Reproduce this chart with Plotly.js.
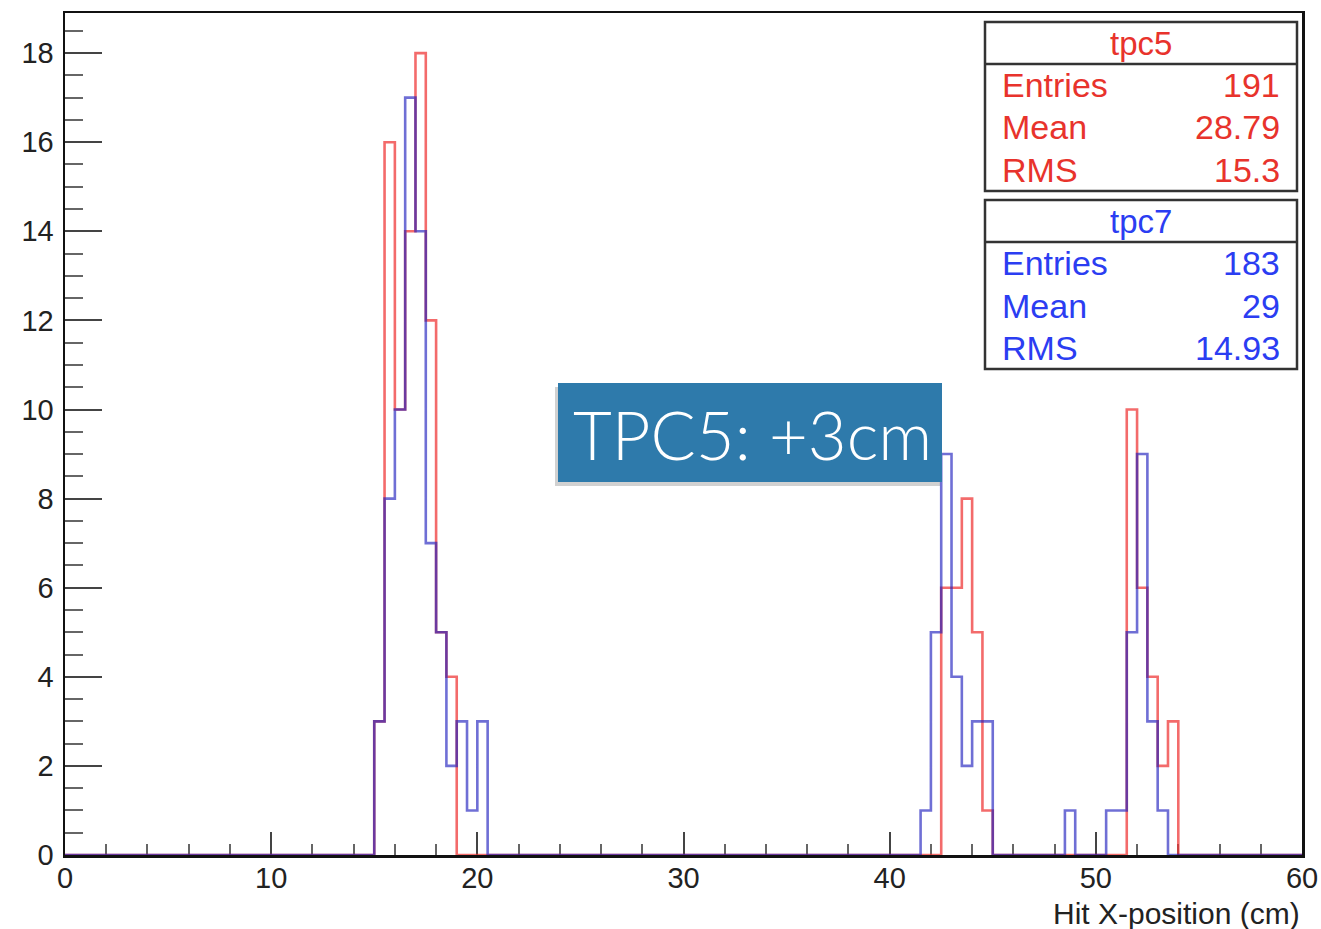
<!DOCTYPE html>
<html>
<head>
<meta charset="utf-8">
<script src="https://cdn.plot.ly/plotly-3.0.1.min.js"></script>
<style>
  html, body { margin: 0; padding: 0; background: #ffffff; }
  #chart { width: 1321px; height: 929px; }
</style>
</head>
<body>
<div id="chart"></div>
<script>
// ---- Data (bin lower edges in cm, 0.5 cm bins) ----
const tpc5BinLow = [15.0, 15.5, 16.0, 16.5, 17.0, 17.5, 18.0, 18.5,
                    42.5, 43.0, 43.5, 44.0, 44.5,
                    51.5, 52.0, 52.5, 53.0, 53.5];
const tpc5Counts = [3, 16, 10, 14, 18, 12, 5, 4,
                    6, 6, 8, 5, 1,
                    10, 6, 4, 2, 3];
const tpc7BinLow = [15.0, 15.5, 16.0, 16.5, 17.0, 17.5, 18.0, 18.5, 19.0, 19.5, 20.0,
                    41.5, 42.0, 42.5, 43.0, 43.5, 44.0, 44.5,
                    48.5,
                    50.5, 51.0, 51.5, 52.0, 52.5, 53.0];
const tpc7Counts = [3, 8, 10, 17, 14, 7, 5, 2, 3, 1, 3,
                    1, 5, 9, 4, 2, 3, 3,
                    1,
                    1, 1, 5, 9, 3, 1];
const tpc5Stats = {name: "tpc5", entries: "191", mean: "28.79", rms: "15.3"};
const tpc7Stats = {name: "tpc7", entries: "183", mean: "29", rms: "14.93"};
const statLabels = ["Entries", "Mean", "RMS"];
const xTitle = "Hit X-position (cm)";
const noteText = "TPC5: +3cm";

// ---- Histogram axis definition ----
const histMin = 0, histMax = 60, nBins = 120;
const binW = (histMax - histMin) / nBins;

function stepSeries(lows, counts) {
  const xs = [], ys = [];
  const full = new Array(nBins).fill(0);
  lows.forEach((lo, i) => {
    const idx = Math.round((lo - histMin) / binW);
    full[idx] = counts[i];
  });
  for (let i = 0; i < nBins; i++) { xs.push(histMin + i * binW); ys.push(full[i]); }
  xs.push(histMax); ys.push(full[nBins - 1]);
  return {xs, ys};
}

const s5 = stepSeries(tpc5BinLow, tpc5Counts);
const s7 = stepSeries(tpc7BinLow, tpc7Counts);

const RED = "rgba(238,50,50,0.72)";
const BLUE = "rgba(30,30,190,0.64)";
const RED_TXT = "#e8332c";
const BLUE_TXT = "#2b3df2";

const traces = [
  {x: s5.xs, y: s5.ys, type: "scatter", mode: "lines", line: {shape: "hv", color: RED, width: 2.6}, hoverinfo: "x+y", name: "tpc5"},
  {x: s7.xs, y: s7.ys, type: "scatter", mode: "lines", line: {shape: "hv", color: BLUE, width: 2.6}, hoverinfo: "x+y", name: "tpc7"}
];

// plot area in pixels
const L = 65, R = 1302, T = 13, B = 855;
const W = 1321, H = 929;
const px = v => (v - L) / (R - L);
const py = v => (B - v) / (B - T);

const FONT = "Liberation Sans, Arial, Helvetica, sans-serif";
const shapes = [];
const annotations = [];

function statBox(top, bottom, divider, st, color) {
  shapes.push({type: "rect", xref: "paper", yref: "paper", x0: px(985), x1: px(1297), y0: py(bottom), y1: py(top),
               line: {color: "#333333", width: 2.5}, fillcolor: "#ffffff", layer: "above"});
  shapes.push({type: "line", xref: "paper", yref: "paper", x0: px(985), x1: px(1297), y0: py(divider), y1: py(divider),
               line: {color: "#333333", width: 2.5}, layer: "above"});
  annotations.push({xref: "paper", yref: "paper", x: px(1141), y: py((top + divider) / 2), text: st.name,
                    showarrow: false, xanchor: "center", yanchor: "middle", font: {family: FONT, size: 33, color: color}});
  const rowH = (bottom - divider) / 3;
  const vals = [st.entries, st.mean, st.rms];
  for (let i = 0; i < 3; i++) {
    const yc = divider + rowH * (i + 0.5);
    annotations.push({xref: "paper", yref: "paper", x: px(1000), y: py(yc), text: statLabels[i], showarrow: false,
                      xanchor: "left", yanchor: "middle", font: {family: FONT, size: 34, color: color}});
    annotations.push({xref: "paper", yref: "paper", x: px(1282), y: py(yc), text: vals[i], showarrow: false,
                      xanchor: "right", yanchor: "middle", font: {family: FONT, size: 34, color: color}});
  }
}
statBox(22, 191, 64, tpc5Stats, RED_TXT);
statBox(200, 369, 242, tpc7Stats, BLUE_TXT);

// note box with soft shadow
shapes.push({type: "rect", xref: "paper", yref: "paper", x0: px(555), x1: px(940), y0: py(486), y1: py(387),
             line: {width: 0}, fillcolor: "rgba(0,0,0,0.18)", layer: "above"});
shapes.push({type: "rect", xref: "paper", yref: "paper", x0: px(558), x1: px(942), y0: py(482), y1: py(383),
             line: {width: 0}, fillcolor: "#2e7aab", layer: "above"});
annotations.push({xref: "paper", yref: "paper", x: px(752), y: py(434), text: noteText, showarrow: false,
                  xanchor: "center", yanchor: "middle",
                  font: {family: "Lato, Open Sans, sans-serif", size: 67, color: "#ffffff", weight: 300}});

// axis title
annotations.push({xref: "paper", yref: "paper", x: 1, y: py(914), text: xTitle, showarrow: false,
                  xanchor: "right", yanchor: "middle", font: {family: FONT, size: 30, color: "#222222"}});

const layout = {
  width: W, height: H,
  margin: {l: L, r: W - R, t: T, b: H - B, pad: 0},
  paper_bgcolor: "#ffffff", plot_bgcolor: "#ffffff",
  showlegend: false,
  font: {family: FONT, color: "#222222"},
  xaxis: {
    range: [histMin, histMax], dtick: 10, tick0: 0,
    ticks: "inside", ticklen: 23, tickwidth: 2, tickcolor: "#444444",
    minor: {dtick: 2, ticks: "inside", ticklen: 11, tickwidth: 2, tickcolor: "#666666", showgrid: false},
    showgrid: false, zeroline: false,
    showline: true, linecolor: "#111111", linewidth: 2.5, mirror: true,
    tickfont: {family: FONT, size: 29, color: "#222222"},
    ticklabelstandoff: -4,
    layer: "below traces"
  },
  yaxis: {
    range: [0, 18.9], dtick: 2, tick0: 0,
    ticks: "inside", ticklen: 37, tickwidth: 2, tickcolor: "#444444",
    minor: {dtick: 0.5, ticks: "inside", ticklen: 18, tickwidth: 2, tickcolor: "#666666", showgrid: false},
    showgrid: false, zeroline: false,
    showline: true, linecolor: "#111111", linewidth: 2.5, mirror: true,
    tickfont: {family: FONT, size: 29, color: "#222222"},
    ticklabelstandoff: 3,
    layer: "below traces"
  },
  shapes: shapes,
  annotations: annotations
};

Plotly.newPlot("chart", traces, layout, {displayModeBar: false, staticPlot: true});
</script>
</body>
</html>
